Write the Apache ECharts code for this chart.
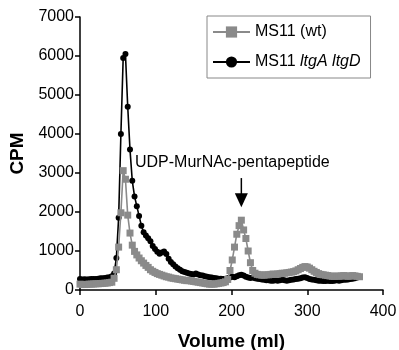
<!DOCTYPE html>
<html>
<head>
<meta charset="utf-8">
<script src="https://cdn.jsdelivr.net/npm/echarts@6/dist/echarts.min.js"></script>
<style>
  html, body { margin: 0; padding: 0; background: #fff; }
  #chart { width: 399px; height: 350px; }
</style>
</head>
<body>
<div id="chart"></div>
<script>
// elution volume (ml), one entry per fraction
var volume = [
  0, 3, 6, 9, 12, 15, 18, 21, 24, 27, 30, 33, 36, 39, 42, 45, 48, 51, 54, 57,
  60, 63, 66, 69, 72, 75, 78, 81, 84, 87, 90, 93, 96, 99, 102, 105, 108, 111, 114, 117,
  120, 123, 126, 129, 132, 135, 138, 141, 144, 147, 150, 153, 156, 159, 162, 165, 168, 171, 174, 177,
  180, 183, 186, 189, 192, 195, 198, 201, 204, 207, 210, 213, 216, 219, 222, 225, 228, 231, 234, 237,
  240, 243, 246, 249, 252, 255, 258, 261, 264, 267, 270, 273, 276, 279, 282, 285, 288, 291, 294, 297,
  300, 303, 306, 309, 312, 315, 318, 321, 324, 327, 330, 333, 336, 339, 342, 345, 348, 351, 354, 357,
  360, 363, 366, 369
];
// MS11 (wt)
var cpmWt = [
  150, 140, 140, 145, 150, 150, 155, 160, 160, 165, 170, 175, 180, 190, 200, 300, 520, 1100, 1980, 3060,
  2840, 1920, 1460, 1150, 990, 900, 820, 750, 690, 630, 580, 520, 480, 450, 420, 400, 380, 360, 340, 330,
  310, 300, 290, 280, 270, 260, 250, 240, 240, 230, 220, 210, 200, 190, 180, 170, 160, 150, 150, 150,
  160, 170, 180, 190, 210, 270, 500, 770, 1100, 1430, 1650, 1790, 1540, 1320, 1000, 700, 500, 430, 400, 390,
  380, 380, 390, 390, 400, 410, 400, 410, 420, 430, 430, 440, 450, 460, 470, 490, 520, 550, 580, 600,
  590, 560, 520, 480, 450, 420, 400, 390, 380, 370, 360, 350, 350, 360, 350, 360, 370, 360, 350, 360,
  370, 360, 350, 340
];
// MS11 ltgA ltgD
var cpmMutant = [
  280, 270, 275, 270, 275, 280, 285, 280, 290, 300, 300, 310, 320, 330, 350, 420, 820, 1850, 4000, 5950,
  6050, 4700, 3600, 2800, 2400, 2150, 1900, 1650, 1480, 1400, 1330, 1250, 1130, 1050, 980, 930, 960, 990, 920, 800,
  720, 660, 600, 560, 520, 480, 460, 440, 420, 410, 400, 420, 400, 380, 370, 350, 340, 330, 320, 310,
  300, 290, 290, 280, 290, 300, 320, 340, 330, 350, 380, 390, 370, 340, 320, 310, 320, 300, 290, 280,
  270, 260, 250, 250, 240, 240, 250, 240, 250, 260, 250, 240, 250, 260, 270, 280, 290, 300, 320, 330,
  310, 280, 270, 260, 250, 240, 240, 230, 230, 240, 230, 230, 240, 250, 240, 250, 260, 260, 270, 280,
  290, 300, 320, 340
];
var xTicks = [0, 100, 200, 300, 400];
var yTicks = [0, 1000, 2000, 3000, 4000, 5000, 6000, 7000];
// arrow marking the UDP-MurNAc-pentapeptide peak: volume, top and tip (CPM)
var arrowAt = 213;
var arrowTop = 2870;
var arrowTip = 2120;

function pairs(xs, ys) {
  return xs.map(function (x, i) { return [x, ys[i]]; });
}

var font = '"Liberation Sans", Arial, Helvetica, sans-serif';
var chart = echarts.init(document.getElementById('chart'));

var axisCommon = {
  axisLine: { show: true, onZero: false, lineStyle: { color: '#000', width: 1.5 } },
  axisTick: { show: true, length: 5, lineStyle: { color: '#000', width: 1.5 } },
  splitLine: { show: false },
  axisLabel: { color: '#000', fontSize: 16, fontFamily: font, formatter: function (v) { return String(v); } },
  nameTextStyle: { color: '#000', fontSize: 19, fontWeight: 'bold', fontFamily: font }
};

var option = {
  animation: false,
  backgroundColor: '#fff',
  grid: { left: 80, right: 16, top: 17, bottom: 60, outerBoundsMode: 'none' },
  xAxis: Object.assign({}, axisCommon, {
    type: 'value',
    min: xTicks[0],
    max: xTicks[xTicks.length - 1],
    interval: xTicks[1] - xTicks[0],
    name: 'Volume (ml)',
    nameLocation: 'middle',
    nameGap: 42,
    axisLabel: Object.assign({}, axisCommon.axisLabel, { margin: 14 })
  }),
  yAxis: Object.assign({}, axisCommon, {
    type: 'value',
    min: yTicks[0],
    max: yTicks[yTicks.length - 1],
    interval: yTicks[1] - yTicks[0],
    name: 'CPM',
    nameLocation: 'middle',
    nameGap: 34,
    axisLabel: Object.assign({}, axisCommon.axisLabel, { margin: 6 })
  }),
  legend: {
    orient: 'vertical',
    left: 207,
    top: 16,
    padding: [8, 10, 8, 5],
    itemGap: 14,
    itemWidth: 37,
    itemHeight: 14,
    borderColor: '#888',
    borderWidth: 1,
    backgroundColor: '#fff',
    textStyle: {
      color: '#000', fontSize: 16, fontFamily: font,
      rich: { i: { fontStyle: 'italic', fontSize: 16, fontFamily: font, color: '#000' } }
    },
    formatter: function (name) {
      return name === 'MS11 ltgA ltgD' ? 'MS11 {i|ltgA ltgD}' : name;
    },
    data: ['MS11 (wt)', 'MS11 ltgA ltgD']
  },
  series: [
    {
      name: 'MS11 ltgA ltgD',
      type: 'line',
      data: pairs(volume, cpmMutant),
      symbol: 'circle',
      symbolSize: 6,
      showAllSymbol: true,
      itemStyle: { color: '#000' },
      lineStyle: { color: '#000', width: 1.6 },
      z: 2
    },
    {
      name: 'MS11 (wt)',
      type: 'line',
      data: pairs(volume, cpmWt),
      symbol: 'rect',
      symbolSize: 7,
      showAllSymbol: true,
      itemStyle: { color: '#8a8a8a' },
      lineStyle: { color: '#8a8a8a', width: 1.6 },
      z: 3
    }
  ]
};

chart.setOption(option);

// annotation: label and downward arrow, placed through the axes
var arrowStart = chart.convertToPixel({ xAxisIndex: 0, yAxisIndex: 0 }, [arrowAt, arrowTop]);
var arrowEnd = chart.convertToPixel({ xAxisIndex: 0, yAxisIndex: 0 }, [arrowAt, arrowTip]);
var headH = 14, headW = 13;
chart.setOption({
  graphic: [
    {
      type: 'text',
      x: arrowStart[0] - 9,
      y: arrowStart[1] - 15,
      style: {
        text: 'UDP-MurNAc-pentapeptide',
        fill: '#000',
        fontSize: 16,
        fontFamily: font,
        textAlign: 'center',
        textVerticalAlign: 'middle'
      }
    },
    {
      type: 'line',
      shape: { x1: arrowStart[0], y1: arrowStart[1], x2: arrowEnd[0], y2: arrowEnd[1] - headH + 1 },
      style: { stroke: '#000', lineWidth: 1.5 }
    },
    {
      type: 'polygon',
      shape: { points: [[arrowEnd[0] - headW / 2, arrowEnd[1] - headH], [arrowEnd[0] + headW / 2, arrowEnd[1] - headH], [arrowEnd[0], arrowEnd[1]]] },
      style: { fill: '#000' }
    }
  ]
});
</script>
</body>
</html>
